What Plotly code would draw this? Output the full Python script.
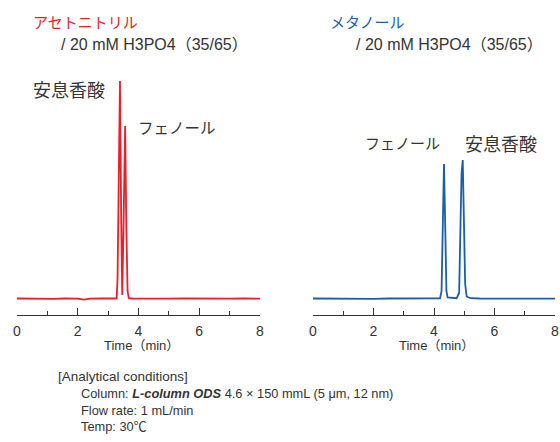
import plotly.graph_objects as go

# ---- data ----
left_time = [0.0, 0.4, 0.8, 1.2, 1.6, 2.0, 2.2, 2.4, 2.8, 3.2, 3.28, 3.31, 3.35, 3.39, 3.43, 3.465,
             3.50, 3.56, 3.60, 3.64, 3.68, 3.8, 4.2, 4.6, 5.0, 5.5, 6.0, 6.5, 7.0, 7.5, 8.0]
left_signal = [0.5, 0.3, 0.6, 0.2, 0.5, 0.4, -0.6, 0.3, 0.5, 0.4, 0.5, 20, 120, 218, 80, 4,
               60, 173, 70, 8, 0.8, 0.5, 0.3, 0.6, 0.4, 0.5, 0.3, 0.6, 0.4, 0.5, 0.4]

right_time = [0.0, 0.5, 1.0, 1.5, 2.0, 2.5, 3.0, 3.5, 4.0, 4.2, 4.25, 4.29, 4.33, 4.37, 4.41, 4.45,
              4.6, 4.75, 4.83, 4.86, 4.91, 4.95, 4.99, 5.03, 5.08, 5.2, 5.5, 6.0, 6.5, 7.0, 7.5, 8.0]
right_signal = [0.5, 0.3, 0.6, 0.4, 0.2, 0.5, 0.4, 0.3, 0.5, 0.6, 8, 75, 135, 75, 8, 1.5,
                0.8, 0.8, 6, 50, 125, 139, 80, 15, 2.5, 0.8, 0.5, 0.3, 0.5, 0.4, 0.3, 0.4]

tick_vals = [0, 2, 4, 6, 8]
tick_text = ["0", "2", "4", "6", "8"]

JP = "Noto Sans CJK JP"
LAT = "Liberation Sans, Noto Sans CJK JP"
RED = "#e8202a"
BLUE = "#1a5fa8"
TXT = "#333333"

fig = go.Figure()
fig.add_trace(go.Scatter(x=left_time, y=left_signal, mode="lines",
                         line=dict(color=RED, width=1.8), xaxis="x", yaxis="y", showlegend=False))
fig.add_trace(go.Scatter(x=right_time, y=right_signal, mode="lines",
                         line=dict(color=BLUE, width=1.8), xaxis="x2", yaxis="y2", showlegend=False))

ydom = [(442 - 315) / 442, (442 - 59) / 442]
axis_common = dict(range=[0, 8], showline=True, linecolor=TXT, linewidth=1,
                   ticks="inside", ticklen=7, tickcolor=TXT, tickwidth=1,
                   tickvals=tick_vals, ticktext=tick_text, showgrid=False, zeroline=False,
                   ticklabelstandoff=3,
                   tickfont=dict(family=LAT, size=14, color=TXT),
                   minor=dict(ticks="inside", ticklen=4, dtick=1, tick0=0, tickcolor=TXT, showgrid=False))
yaxis_common = dict(range=[-16, 240], visible=False, domain=ydom, fixedrange=True)

fig.update_layout(
    width=560, height=442,
    margin=dict(l=0, r=0, t=0, b=0, autoexpand=False),
    paper_bgcolor="white", plot_bgcolor="white",
    xaxis=dict(domain=[17 / 560, 260 / 560], anchor="y", automargin=False, **axis_common),
    xaxis2=dict(domain=[313 / 560, 555 / 560], anchor="y2", automargin=False, **axis_common),
    yaxis=dict(anchor="x", **yaxis_common),
    yaxis2=dict(anchor="x2", **yaxis_common),
)

def txt(x, y, s, size=14, color=TXT, xanchor="left", family=JP):
    fig.add_annotation(x=x / 560, y=1 - y / 442, xref="paper", yref="paper", text=s,
                       showarrow=False, xanchor=xanchor, yanchor="middle", borderpad=0,
                       font=dict(family=family, size=size, color=color))

txt(32, 21, "アセトニトリル", 15, RED)
txt(60, 45, "/ 20 mM H3PO4（35/65）", 16, family=LAT)
txt(32, 89, "安息香酸", 18)
txt(137, 127, "フェノール", 15.5)

txt(329, 21, "メタノール", 15, BLUE)
txt(355, 45, "/ 20 mM H3PO4（35/65）", 16, family=LAT)
txt(364, 143, "フェノール", 15)
txt(464, 143, "安息香酸", 18)

txt(141, 345, "Time（min）", 13, xanchor="center", family=LAT)
txt(436, 345, "Time（min）", 13, xanchor="center", family=LAT)

txt(57, 376, "[Analytical conditions]", 13.5, family=LAT)
fig.add_annotation(x=80 / 560, y=1 - 385 / 442, xref="paper", yref="paper",
                   text=("Column: <b><i>L-column ODS</i></b> 4.6 × 150 mmL (5 μm, 12 nm)<br>"
                         "Flow rate: 1 mL/min<br>Temp: 30℃"),
                   showarrow=False, xanchor="left", yanchor="top", align="left", borderpad=0,
                   font=dict(family=LAT, size=12.8, color=TXT))

fig.write_html("out.html")
